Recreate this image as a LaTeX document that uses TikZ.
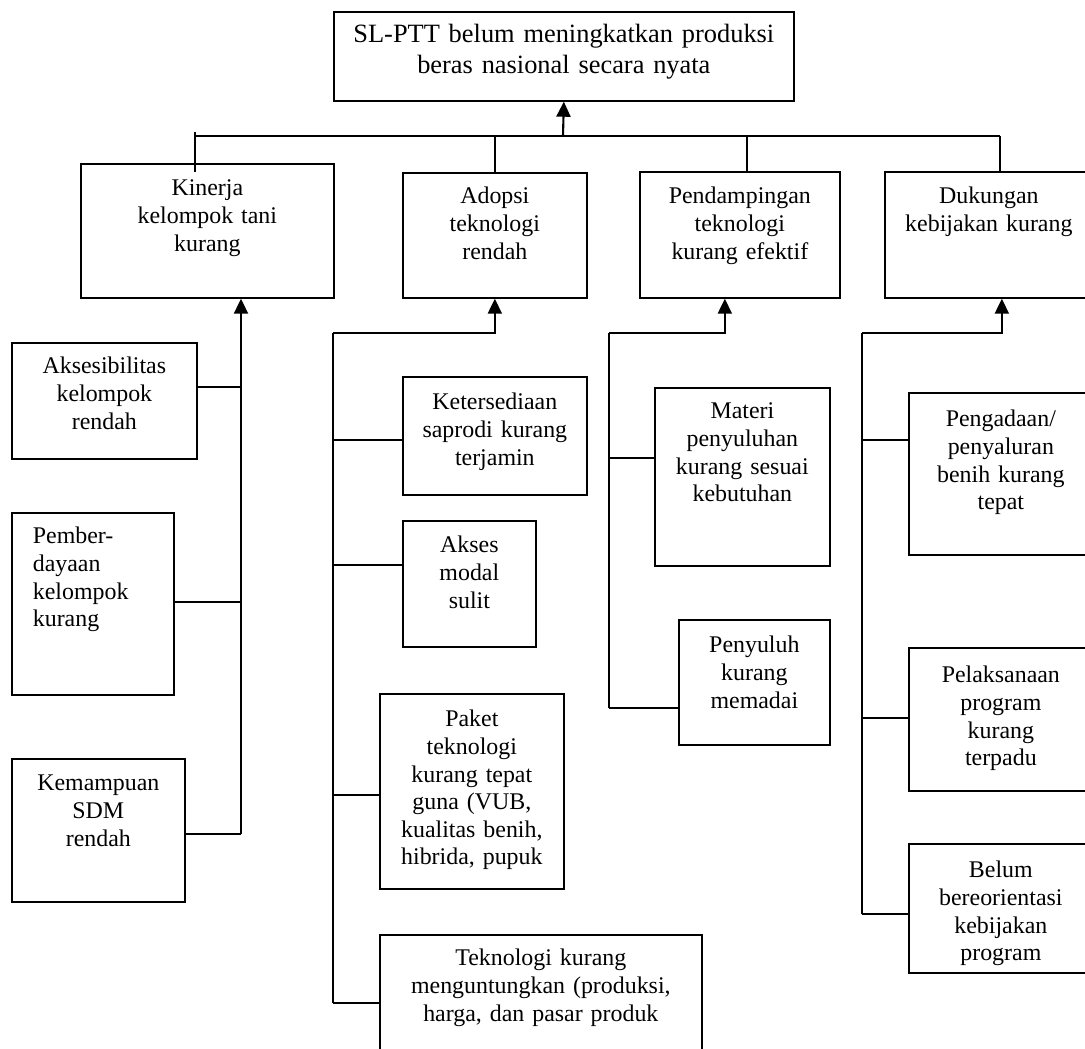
\documentclass[tikz,border=0pt]{standalone}
\usepackage{fontspec}
\setmainfont{Liberation Serif}
\usetikzlibrary{arrows.meta,calc}

\begin{document}
\begin{tikzpicture}[x=1pt,y=-1pt,
  box/.style={draw, line width=1.7pt, anchor=north west, inner sep=0pt, align=center,
    font=\fontsize{23.9}{27.6}\selectfont},
  lnk/.style={line width=1.5pt},
  arr/.style={-{Triangle[length=15pt,width=14pt]}, line width=2.1pt}]
  \useasboundingbox (0,0) rectangle (1085,1049);
  \clip (0,0) rectangle (1085,1049);
  % problem
  \node[box, font=\fontsize{26.4}{31}\selectfont, text width=460pt, text height=31pt, text depth=58pt]
    (top) at (333,11) {SL-PTT belum meningkatkan produksi\\beras nasional secara nyata};
  % causes
  \node[box, text width=253pt, text height=32pt, text depth=102pt] (kinerja) at (80,163)
    {Kinerja\\kelompok tani\\kurang};
  \node[box, text width=184pt, text height=31pt, text depth=94pt] (adopsi) at (402,172)
    {Adopsi\\teknologi\\rendah};
  \node[box, text width=200pt, text height=32pt, text depth=94pt] (pend) at (639,171)
    {Pendampingan\\teknologi\\kurang efektif};
  \node[box, text width=208pt, text height=32pt, text depth=94pt] (duk) at (884,171)
    {Dukungan\\kebijakan kurang};
  % kinerja
  \node[box, text width=185pt, text height=31pt, text depth=85pt] (aksesib) at (11,342)
    {Aksesibilitas\\kelompok\\rendah};
  \node[box, align=left, inner xsep=21pt, text width=120pt, text height=31pt, text depth=151pt]
    (pember) at (11,512) {Pember-\\dayaan\\kelompok\\kurang};
  \node[box, text width=173pt, text height=32pt, text depth=111pt] (kemampuan) at (11,758)
    {Kemampuan\\SDM\\rendah};
  % adopsi
  \node[box, text width=184pt, text height=33pt, text depth=85pt] (keter) at (402,376)
    {Ketersediaan\\saprodi kurang\\terjamin};
  \node[box, text width=133pt, text height=32pt, text depth=94pt] (modal) at (402,520)
    {Akses\\modal\\sulit};
  \node[box, text width=184pt, text height=33pt, text depth=162pt] (paket) at (379,693)
    {Paket\\teknologi\\kurang tepat\\guna (VUB,\\kualitas benih,\\hibrida, pupuk};
  \node[box, text width=322pt, text height=31pt, text depth=105pt] (untung) at (379,934)
    {Teknologi kurang\\menguntungkan (produksi,\\harga, dan pasar produk};
  % pendampingan
  \node[box, text width=175pt, text height=31pt, text depth=147pt] (materi) at (654,387)
    {Materi\\penyuluhan\\kurang sesuai\\kebutuhan};
  \node[box, text width=151pt, text height=33pt, text depth=92pt] (penyuluh) at (678,619)
    {Penyuluh\\kurang\\memadai};
  % dukungan
  \node[box, text width=184pt, text height=34pt, text depth=128pt] (pengadaan) at (908,392)
    {Pengadaan/\\penyaluran\\benih kurang\\tepat};
  \node[box, text width=184pt, text height=35pt, text depth=108pt] (pelaksanaan) at (908,647)
    {Pelaksanaan\\program\\kurang\\terpadu};
  \node[box, text width=184pt, text height=34pt, text depth=95pt] (belum) at (908,843)
    {Belum\\bereorientasi\\kebijakan\\program};
  % top bus
  \coordinate (bus) at (563,136);
  \coordinate (busl) at (195,136);
  \coordinate (busr) at (1000,136);
  \coordinate (busp) at (747,136);
  \draw[arr] (bus) -- (top.south);
  \draw[lnk] (busl) -- (busr);
  \draw[lnk] ([yshift=4pt]busl) -- ($(busl |- kinerja.north)+(0,9)$);
  \draw[lnk] (bus -| adopsi.north) -- (adopsi.north);
  \draw[lnk] (busp) -- (busp |- pend.north);
  \draw[lnk] (busr) -- (busr |- duk.north);
  % kinerja trunk
  \coordinate (k0) at (241,834);
  \coordinate (k1) at (241,387);
  \coordinate (k2) at (241,602);
  \draw[arr] (k0) -- (k0 |- kinerja.south);
  \draw[lnk] (k1) -- (k1 -| aksesib.east);
  \draw[lnk] (k2) -- (k2 -| pember.east);
  \draw[lnk] (k0) -- (k0 -| kemampuan.east);
  % adopsi trunk
  \coordinate (a0) at (333,333);
  \coordinate (a1) at (333,440);
  \coordinate (a2) at (333,565);
  \coordinate (a3) at (333,795);
  \coordinate (a4) at (333,1003);
  \draw[arr] (a0) -| (adopsi.south);
  \draw[lnk] (a0) -- (a4);
  \draw[lnk] (a1) -- (a1 -| keter.west);
  \draw[lnk] (a2) -- (a2 -| modal.west);
  \draw[lnk] (a3) -- (a3 -| paket.west);
  \draw[lnk] (a4) -- (a4 -| untung.west);
  % pendampingan trunk
  \coordinate (p0) at (609,333);
  \coordinate (p1) at (609,458);
  \coordinate (p2) at (609,708);
  \draw[arr] (p0) -| ([xshift=-15pt]pend.south);
  \draw[lnk] (p0) -- (p2);
  \draw[lnk] (p1) -- (p1 -| materi.west);
  \draw[lnk] (p2) -- (p2 -| penyuluh.west);
  % dukungan trunk
  \coordinate (d0) at (862,333);
  \coordinate (d1) at (862,440);
  \coordinate (d2) at (862,718);
  \coordinate (d3) at (862,914);
  \draw[arr] (d0) -| ([xshift=13pt]duk.south);
  \draw[lnk] (d0) -- (d3);
  \draw[lnk] (d1) -- (d1 -| pengadaan.west);
  \draw[lnk] (d2) -- (d2 -| pelaksanaan.west);
  \draw[lnk] (d3) -- (d3 -| belum.west);
\end{tikzpicture}
\end{document}
